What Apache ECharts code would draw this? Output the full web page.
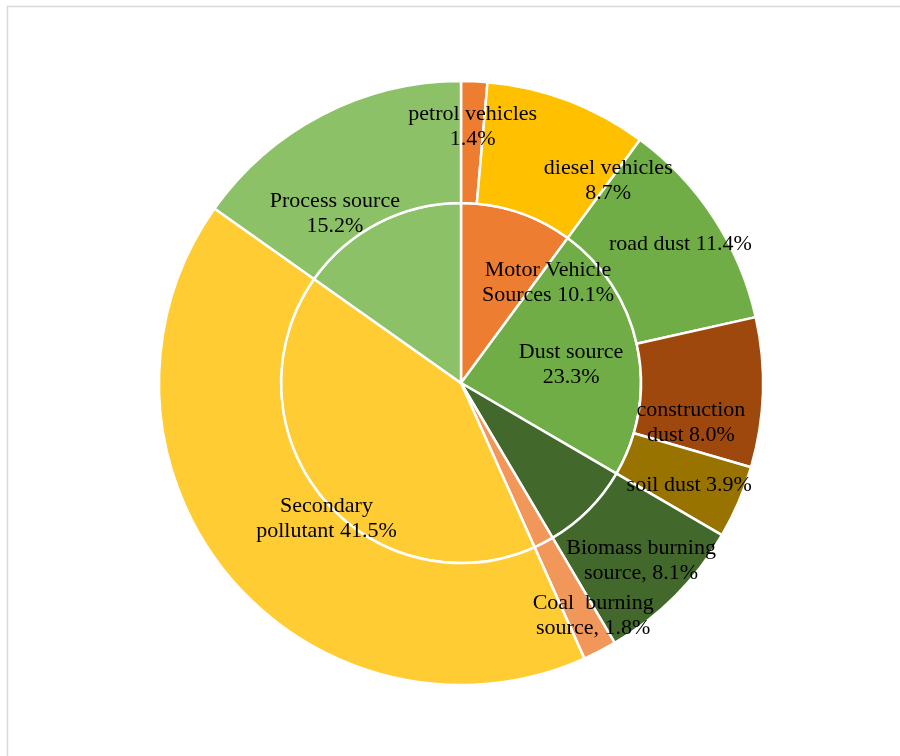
<!DOCTYPE html>
<html>
<head>
<meta charset="utf-8">
<script src="https://cdn.jsdelivr.net/npm/echarts@6/dist/echarts.min.js"></script>
<style>html,body{margin:0;padding:0;background:#fff}#c{width:900px;height:756px}</style>
</head>
<body>
<div id="c"></div>
<script>
// Inner ring: source categories
var innerNames = ['Motor Vehicle Sources', 'Dust source', 'Biomass burning source', 'Coal burning source', 'Secondary pollutant', 'Process source'];
var innerValues = [10.1, 23.3, 8.1, 1.8, 41.5, 15.2];
var innerLabels = ['Motor Vehicle\nSources 10.1%', 'Dust source\n23.3%', '', '', '', ''];

// Outer ring: sub-sources
var outerNames = ['petrol vehicles', 'diesel vehicles', 'road dust', 'construction dust', 'soil dust', 'Biomass burning source', 'Coal burning source', 'Secondary pollutant', 'Process source'];
var outerValues = [1.4, 8.7, 11.4, 8.0, 3.9, 8.1, 1.8, 41.5, 15.2];
var outerLabels = ['petrol vehicles\n1.4%', 'diesel vehicles\n8.7%', 'road dust 11.4%', 'construction\ndust 8.0%', 'soil dust 3.9%', 'Biomass burning\nsource, 8.1%', 'Coal  burning\nsource, 1.8%', 'Secondary\npollutant 41.5%', 'Process source\n15.2%'];

var innerColors = ['#ED7D31', '#70AD47', '#43682B', '#F1975A', '#FFCD33', '#8CC168'];
var outerColors = ['#ED7D31', '#FFC000', '#70AD47', '#9E480E', '#997300', '#43682B', '#F1975A', '#FFCD33', '#8CC168'];
var innerOffsets = [[58, -12], [19, 1], [0, 0], [0, 0], [0, 0], [0, 0]];
var outerOffsets = [[1, -13], [61, 26], [15, -5], [-14, 32], [4, 6], [7, 6], [20, 16], [54, -19], [-14, 47]];

var font = { fontFamily: '"Liberation Serif", "Times New Roman", serif', fontSize: 22, color: '#000', lineHeight: 25 };

function build(names, values, labels, colors, offsets) {
  return names.map(function (n, i) {
    return {
      name: n,
      value: values[i],
      itemStyle: { color: colors[i] },
      label: Object.assign({ show: labels[i] !== '', offset: offsets[i], formatter: labels[i] }, font)
    };
  });
}

var chart = echarts.init(document.getElementById('c'), null, { renderer: 'canvas' });
chart.setOption({
  animation: false,
  backgroundColor: '#fff',
  graphic: [{
    type: 'rect', silent: true,
    shape: { x: 7.5, y: 6.5, width: 1000, height: 1000 },
    style: { fill: 'none', stroke: '#D9D9D9', lineWidth: 1.5 }
  }],
  series: [
    {
      type: 'pie', center: [461, 383], radius: [0, 180], startAngle: 90, clockwise: true,
      avoidLabelOverlap: false, labelLine: { show: false },
      label: { position: 'inside' },
      itemStyle: { borderColor: '#fff', borderWidth: 2.5 },
      emphasis: { disabled: true },
      data: build(innerNames, innerValues, innerLabels, innerColors, innerOffsets)
    },
    {
      type: 'pie', center: [461, 383], radius: [180, 302], startAngle: 90, clockwise: true,
      avoidLabelOverlap: false, labelLine: { show: false },
      label: { position: 'inside' },
      itemStyle: { borderColor: '#fff', borderWidth: 2.5 },
      emphasis: { disabled: true },
      data: build(outerNames, outerValues, outerLabels, outerColors, outerOffsets)
    }
  ]
});
</script>
</body>
</html>
